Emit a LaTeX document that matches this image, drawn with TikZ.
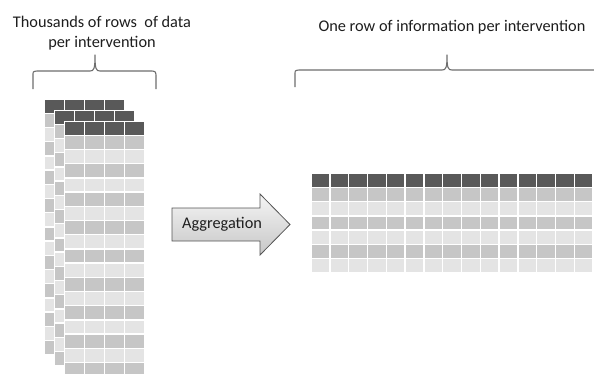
\documentclass[tikz,border=0pt]{standalone}
\usepackage{fontspec}
\setmainfont{Carlito}
\definecolor{headrow}{HTML}{595959}
\definecolor{darkrow}{HTML}{C6C6C6}
\definecolor{lightrow}{HTML}{E4E4E4}
\definecolor{bracecol}{HTML}{6E6E6E}
\definecolor{arrowedge}{HTML}{555555}
\definecolor{txtcol}{HTML}{1E1E1E}
\tikzset{
  title/.style={font=\fontsize{16.3}{20}\selectfont, text=txtcol, inner sep=0pt, align=center},
  bracestyle/.style={draw=bracecol, line width=1.1pt, line join=round},
  aggarrow/.style={draw=arrowedge, line width=0.8pt, top color=white!96!black, bottom color=black!22},
}
\begin{document}
\begin{tikzpicture}[x=1pt,y=-1pt]
\path[use as bounding box, clip] (0,0) rectangle (594,373);
\fill[white] (0,0) rectangle (594,373);

% titles
\node[title] (lefttitle) at (102,33) {Thousands of rows~ of data\\per intervention};
\node[title] (righttitle) at (452,27) {One row of information per intervention};

% left brace
\draw[bracestyle] (33,89) -- (33,75) .. controls (33,71.5) .. (37,71) -- (90,71)
  .. controls (94,71) and (95,69) .. (95,55) .. controls (95,69) and (96,71) .. (100,71)
  -- (152,71) .. controls (155.5,71.5) .. (156,75) -- (156,89);
% right brace
\draw[bracestyle] (295,87) -- (295,74) .. controls (295,70.5) .. (299,70) -- (442,70)
  .. controls (446,70) and (447,68) .. (447,55) .. controls (447,68) and (448,70) .. (452,70)
  -- (595,70) .. controls (598.5,70.5) .. (599,74) -- (599,87);

% stacked sheets
\foreach \s in {0,1,2}{
  \pgfmathsetmacro\xo{44+10*\s}
  \pgfmathsetmacro\yo{99+11*\s}
  \fill[white] (\xo,\yo) rectangle ++(81,255.6);
  \foreach \r in {0,...,17}{
    \pgfmathtruncatemacro\m{\r==0 ? 2 : mod(\r,2)}
    \ifcase\m \def\cc{lightrow}\or \def\cc{darkrow}\else \def\cc{headrow}\fi
    \foreach \c in {0,...,3}{
      \fill[\cc] (\xo+\c*20.25+0.7,\yo+\r*14.2+0.7) rectangle ++(18.85,12.8);
    }
  }
}

% aggregated table
\foreach \r in {0,...,6}{
  \pgfmathtruncatemacro\m{\r==0 ? 2 : mod(\r,2)}
  \ifcase\m \def\cc{lightrow}\or \def\cc{darkrow}\else \def\cc{headrow}\fi
  \foreach \c in {0,...,14}{
    \fill[\cc] (311+\c*18.8+0.7,173+\r*14.29+0.7) rectangle ++(17.4,12.9);
  }
}

% aggregation arrow
\path[aggarrow] (172,208) -- (260,208) -- (260,194) -- (290,224.5) -- (260,255) -- (260,241) -- (172,241) -- cycle;
\node[title] (agg) at (222,224.5) {Aggregation};
\end{tikzpicture}
\end{document}
